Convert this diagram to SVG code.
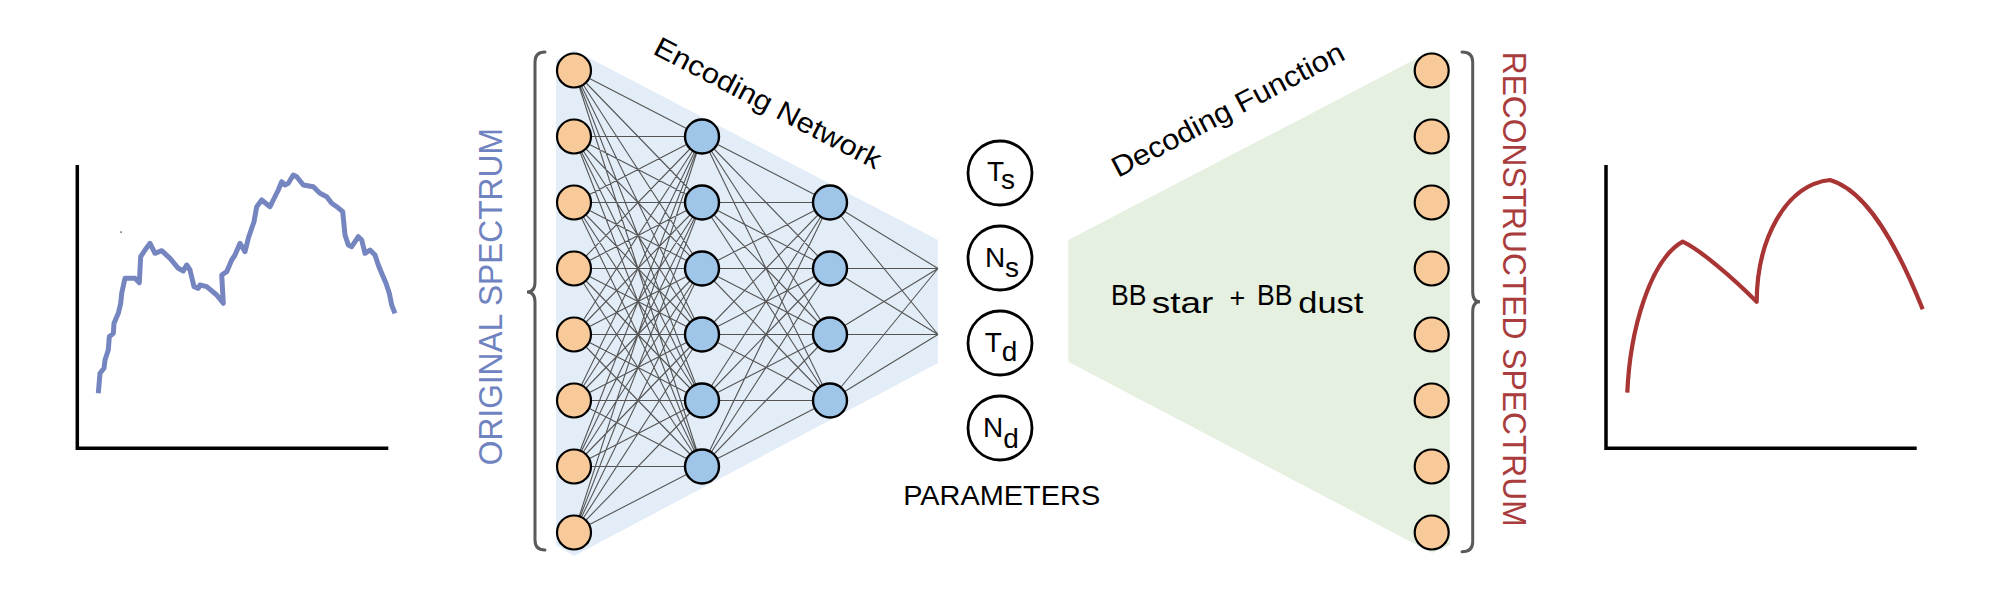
<svg xmlns="http://www.w3.org/2000/svg" width="2000" height="600" viewBox="0 0 2000 600">
<style>
text{font-family:"Liberation Sans",Arial,sans-serif;fill:#000}
.in{fill:#f8c999;stroke:#000;stroke-width:2.2}
.hid{fill:#9fc5e8;stroke:#000;stroke-width:2.4}
.par{fill:#fff;stroke:#000;stroke-width:2.8}
.edge{stroke:#555;stroke-width:1.1;fill:none}
.brace{stroke:#5a5a5a;stroke-width:3;fill:none;stroke-linecap:round}
.axis{stroke:#000;stroke-width:3.5;fill:none}
</style>
<rect width="2000" height="600" fill="#fff"/>

<g id="left-plot">
<path class="axis" d="M77.3,165 L77.3,448.3 L388.3,448.3"/>
<rect x="120.5" y="231.5" width="1.2" height="1.2" fill="#000"/>
<polyline fill="none" stroke="#7585c0" stroke-width="5" stroke-linejoin="round" points="98.3,393.3 100,373.3 104,368.3 105,360 108.3,350 109.3,336.7 113.3,333.3 114,323.3 118.3,313.3 120.7,303.3 121.7,293.3 125,278.3 135,278.3 139.3,282.7 140.7,256.7 145,250 150,243.3 155,253.3 161.7,250.7 170,258.3 178.3,268.3 183.3,271 186.7,265 190,270 194,286.7 198.3,288.3 200,285 206.7,286.7 216.7,295 223.3,303.3 221.7,275 226.7,271.7 231.7,260 235,255 240,243.3 245,251.7 248.3,238.3 251.7,228.3 254,221.7 256.7,206.7 261.7,200 270,206.7 273.3,200 278.3,190 281.7,181.7 285,185 288.3,183.3 293.3,175 296.7,176.7 303.3,185 313.3,186.7 320,193.3 326.7,196.7 331.7,203.3 336.7,206.7 342.7,211.7 345,235 348.3,245 351.7,246.7 358.3,236.7 361.7,240 365,253.3 370,250 375,255 378.3,265 381.7,273.3 386,283.3 389.3,293.3 391.7,305 395,313.3"/>
</g>

<g id="right-plot">
<path class="axis" d="M1606,165 L1606,448.3 L1916.7,448.3"/>
<path fill="none" stroke="#a83434" stroke-width="4.2" stroke-linejoin="round" d="M1627.3,392.7 C1630,330 1650,260 1682.7,241.7 C1700,250 1730,275 1756.7,301.7 C1757,240 1785,185 1830,180 C1865,190 1895,240 1922.7,309.3"/>
</g>

<g id="original-label">
<text transform="translate(501.7,296.7) rotate(-90)" text-anchor="middle" font-size="34" textLength="337" lengthAdjust="spacingAndGlyphs" style="fill:#7083c1">ORIGINAL SPECTRUM</text>
<path class="brace" d="M545,52 Q535,52 535,62 L535,282 Q535,292 527,292 Q535,292 535,302 L535,540 Q535,550 545,550"/>
</g>

<g id="reconstructed-label">
<text transform="translate(1503.3,289.2) rotate(90)" text-anchor="middle" font-size="34" textLength="475" lengthAdjust="spacingAndGlyphs" style="fill:#a93c3c">RECONSTRUCTED SPECTRUM</text>
<path class="brace" d="M1462,52 Q1472.7,52 1472.7,62 L1472.7,291.7 Q1472.7,301.7 1480,301.7 Q1472.7,301.7 1472.7,311.7 L1472.7,541.7 Q1472.7,551.7 1462,551.7"/>
</g>

<g id="encoder-bg">
<polygon fill="#e3edf7" points="556,60 574,50 938,240 938,363 574,556 556,545"/>
</g>
<g id="decoder-bg">
<polygon fill="#e5f0e0" points="1068.3,240 1432,50.5 1450,60 1450,545 1432,553 1068.3,361.7"/>
</g>

<g id="connectors" class="edge">
<path class="edge" d="M574,70.5 L702,136.5 M574,70.5 L702,202.5 M574,70.5 L702,268.5 M574,70.5 L702,334.5 M574,70.5 L702,400.5 M574,70.5 L702,466.5
M574,136.5 L702,136.5 M574,136.5 L702,202.5 M574,136.5 L702,268.5 M574,136.5 L702,334.5 M574,136.5 L702,400.5 M574,136.5 L702,466.5
M574,202.5 L702,136.5 M574,202.5 L702,202.5 M574,202.5 L702,268.5 M574,202.5 L702,334.5 M574,202.5 L702,400.5 M574,202.5 L702,466.5
M574,268.5 L702,136.5 M574,268.5 L702,202.5 M574,268.5 L702,268.5 M574,268.5 L702,334.5 M574,268.5 L702,400.5 M574,268.5 L702,466.5
M574,334.5 L702,136.5 M574,334.5 L702,202.5 M574,334.5 L702,268.5 M574,334.5 L702,334.5 M574,334.5 L702,400.5 M574,334.5 L702,466.5
M574,400.5 L702,136.5 M574,400.5 L702,202.5 M574,400.5 L702,268.5 M574,400.5 L702,334.5 M574,400.5 L702,400.5 M574,400.5 L702,466.5
M574,466.5 L702,136.5 M574,466.5 L702,202.5 M574,466.5 L702,268.5 M574,466.5 L702,334.5 M574,466.5 L702,400.5 M574,466.5 L702,466.5
M574,532.5 L702,136.5 M574,532.5 L702,202.5 M574,532.5 L702,268.5 M574,532.5 L702,334.5 M574,532.5 L702,400.5 M574,532.5 L702,466.5
M702,136.5 L830,202.5 M702,136.5 L830,268.5 M702,136.5 L830,334.5 M702,136.5 L830,400.5
M702,202.5 L830,202.5 M702,202.5 L830,268.5 M702,202.5 L830,334.5 M702,202.5 L830,400.5
M702,268.5 L830,202.5 M702,268.5 L830,268.5 M702,268.5 L830,334.5 M702,268.5 L830,400.5
M702,334.5 L830,202.5 M702,334.5 L830,268.5 M702,334.5 L830,334.5 M702,334.5 L830,400.5
M702,400.5 L830,202.5 M702,400.5 L830,268.5 M702,400.5 L830,334.5 M702,400.5 L830,400.5
M702,466.5 L830,202.5 M702,466.5 L830,268.5 M702,466.5 L830,334.5 M702,466.5 L830,400.5
M830,202.5 L938,268.5 M830,202.5 L938,334.5
M830,268.5 L938,268.5 M830,268.5 L938,334.5
M830,334.5 L938,268.5 M830,334.5 L938,334.5
M830,400.5 L938,268.5 M830,400.5 L938,334.5"/>
</g>

<g id="input-layer">
<circle class="in" cx="574" cy="70.5" r="17"/>
<circle class="in" cx="574" cy="136.5" r="17"/>
<circle class="in" cx="574" cy="202.5" r="17"/>
<circle class="in" cx="574" cy="268.5" r="17"/>
<circle class="in" cx="574" cy="334.5" r="17"/>
<circle class="in" cx="574" cy="400.5" r="17"/>
<circle class="in" cx="574" cy="466.5" r="17"/>
<circle class="in" cx="574" cy="532.5" r="17"/>
</g>
<g id="hidden-layer-1">
<circle class="hid" cx="702" cy="136.5" r="17"/>
<circle class="hid" cx="702" cy="202.5" r="17"/>
<circle class="hid" cx="702" cy="268.5" r="17"/>
<circle class="hid" cx="702" cy="334.5" r="17"/>
<circle class="hid" cx="702" cy="400.5" r="17"/>
<circle class="hid" cx="702" cy="466.5" r="17"/>
</g>
<g id="hidden-layer-2">
<circle class="hid" cx="830" cy="202.5" r="17"/>
<circle class="hid" cx="830" cy="268.5" r="17"/>
<circle class="hid" cx="830" cy="334.5" r="17"/>
<circle class="hid" cx="830" cy="400.5" r="17"/>
</g>

<g id="encoding-label">
<text transform="translate(651.7,53.3) rotate(27.5)" font-size="28" textLength="252" lengthAdjust="spacingAndGlyphs">Encoding Network</text>
</g>
<g id="decoding-label">
<text transform="translate(1118,178) rotate(-27.5)" font-size="29" textLength="258" lengthAdjust="spacingAndGlyphs">Decoding Function</text>
</g>

<g id="param-Ts">
<circle class="par" cx="1000" cy="173" r="32"/>
<text x="1001" y="181" text-anchor="middle" font-size="28">T<tspan dy="8">s</tspan></text>
</g>
<g id="param-Ns">
<circle class="par" cx="1000" cy="258" r="32"/>
<text x="1002" y="266.5" text-anchor="middle" font-size="28">N<tspan dy="10">s</tspan></text>
</g>
<g id="param-Td">
<circle class="par" cx="1000" cy="343" r="32"/>
<text x="1001" y="351.5" text-anchor="middle" font-size="28">T<tspan dy="9">d</tspan></text>
</g>
<g id="param-Nd">
<circle class="par" cx="1000" cy="428" r="32"/>
<text x="1001" y="436.5" text-anchor="middle" font-size="28">N<tspan dy="11">d</tspan></text>
</g>
<g id="parameters-label">
<text x="1001.7" y="505" text-anchor="middle" font-size="28" textLength="197" lengthAdjust="spacingAndGlyphs">PARAMETERS</text>
</g>

<g id="decoding-formula">
<text x="1111" y="305" font-size="29" textLength="35.5" lengthAdjust="spacingAndGlyphs">BB</text>
<text x="1151.7" y="313.3" font-size="29" textLength="61.6" lengthAdjust="spacingAndGlyphs">star</text>
<text x="1229.5" y="307" font-size="27">+</text>
<text x="1257" y="305" font-size="29" textLength="35.5" lengthAdjust="spacingAndGlyphs">BB</text>
<text x="1298.3" y="313.3" font-size="29" textLength="65" lengthAdjust="spacingAndGlyphs">dust</text>
</g>

<g id="output-layer">
<circle class="in" cx="1431.7" cy="70.5" r="17"/>
<circle class="in" cx="1431.7" cy="136.5" r="17"/>
<circle class="in" cx="1431.7" cy="202.5" r="17"/>
<circle class="in" cx="1431.7" cy="268.5" r="17"/>
<circle class="in" cx="1431.7" cy="334.5" r="17"/>
<circle class="in" cx="1431.7" cy="400.5" r="17"/>
<circle class="in" cx="1431.7" cy="466.5" r="17"/>
<circle class="in" cx="1431.7" cy="532.5" r="17"/>
</g>
</svg>
